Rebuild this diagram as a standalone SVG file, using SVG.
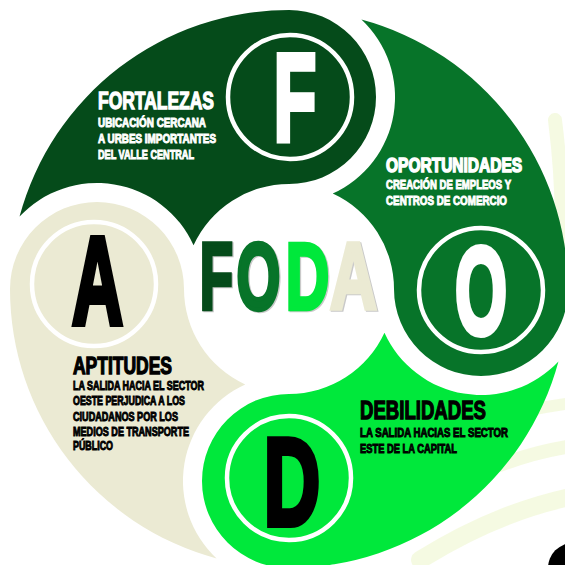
<svg xmlns="http://www.w3.org/2000/svg" width="565" height="565" viewBox="0 0 565 565">
  <style>
    .ring { fill: none; stroke: #ffffff; stroke-width: 4.5; }
    .big { font-family: "Liberation Sans", "DejaVu Sans", sans-serif; font-weight: bold; font-size: 124px; text-anchor: middle; stroke-width: 6; stroke-linejoin: miter; }
    .mid { font-family: "Liberation Sans", "DejaVu Sans", sans-serif; font-weight: bold; font-size: 94px; text-anchor: middle; stroke-width: 4.5; stroke-linejoin: miter; }
    .hd { font-family: "Liberation Sans Narrow", "Liberation Sans", sans-serif; font-weight: bold; stroke-width: 1.3; stroke-linejoin: miter; }
    .hdw { font-family: "Liberation Sans", sans-serif; font-weight: bold; stroke-width: 1.6; stroke-linejoin: miter; }
    .tx { font-family: "Liberation Sans Narrow", "Liberation Sans", sans-serif; font-weight: bold; font-size: 12px; stroke-width: 0.9; stroke-linejoin: miter; }
    .w { fill: #ffffff; stroke: #ffffff; }
    .k { fill: #000000; stroke: #000000; }
    .swoosh { fill: none; stroke: #eef6cf; stroke-linecap: round; opacity: 0.6; }
  </style>
  <defs>
    <path id="petal" d="M 19.55 216.6 A 279 279 0 0 1 289 10 A 87 87 0 0 1 376 97 A 87 87 0 0 1 289 184 A 105 105 0 0 0 193.55 245.25 A 106 106 0 0 0 19.55 216.6 Z"/>
  </defs>
  <rect width="565" height="565" fill="#ffffff"/>
  <g id="background">
    <path class="swoosh" stroke-width="18" d="M 420 560 Q 500 510 580 495"/>
    <path class="swoosh" stroke-width="14" d="M 500 465 Q 540 450 580 445"/>
    <path class="swoosh" stroke-width="12" d="M 530 410 Q 555 405 580 402"/>
    <path class="swoosh" stroke-width="14" d="M 555 120 Q 565 200 560 260"/>
    <circle cx="573" cy="568" r="25" fill="#000000"/>
  </g>
  <g id="fortalezas">
    <use href="#petal" fill="#054b1a"/>
    <circle class="ring" cx="290" cy="97" r="62"/>
    <text class="big w" transform="translate(295 140) scale(0.56 1)">F</text>
    <text class="hd w" x="98" y="109" font-size="24" textLength="116" lengthAdjust="spacingAndGlyphs">FORTALEZAS</text>
    <text class="tx w" x="98" y="126.5" textLength="108" lengthAdjust="spacingAndGlyphs">UBICACIÓN CERCANA</text>
    <text class="tx w" x="98" y="142.5" textLength="118" lengthAdjust="spacingAndGlyphs">A URBES IMPORTANTES</text>
    <text class="tx w" x="98" y="158.5" textLength="96" lengthAdjust="spacingAndGlyphs">DEL VALLE CENTRAL</text>
  </g>
  <g id="oportunidades">
    <use href="#petal" fill="#077429" transform="rotate(90 289 289)"/>
    <circle class="ring" cx="481" cy="290" r="62"/>
    <text class="big w" transform="translate(481 334) scale(0.54 1)">O</text>
    <text class="hdw w" transform="translate(386 172) scale(0.74 1)" x="0" y="0" font-size="21" textLength="184" lengthAdjust="spacingAndGlyphs">OPORTUNIDADES</text>
    <text class="tx w" x="386" y="188.5" textLength="125" lengthAdjust="spacingAndGlyphs">CREACIÓN DE EMPLEOS Y</text>
    <text class="tx w" x="386" y="204.5" textLength="121" lengthAdjust="spacingAndGlyphs">CENTROS DE COMERCIO</text>
  </g>
  <g id="debilidades">
    <use href="#petal" fill="#00e83b" transform="rotate(180 289 289)"/>
    <circle class="ring" cx="289" cy="478" r="62"/>
    <text class="big k" transform="translate(292 525) scale(0.63 1)">D</text>
    <text class="hd k" x="360" y="419" font-size="25" textLength="126" lengthAdjust="spacingAndGlyphs">DEBILIDADES</text>
    <text class="tx k" x="360" y="436.5" textLength="148" lengthAdjust="spacingAndGlyphs">LA SALIDA HACIAS EL SECTOR</text>
    <text class="tx k" x="360" y="452.5" textLength="97" lengthAdjust="spacingAndGlyphs">ESTE DE LA CAPITAL</text>
  </g>
  <g id="aptitudes">
    <use href="#petal" fill="#ebead3" transform="rotate(270 289 289)"/>
    <circle class="ring" cx="94" cy="284" r="62"/>
    <text class="big k" transform="translate(97.5 324) scale(0.57 1)">A</text>
    <text class="hd k" x="73" y="374" font-size="23" textLength="99" lengthAdjust="spacingAndGlyphs">APTITUDES</text>
    <text class="tx k" x="73" y="389.5" font-size="11.5" textLength="131" lengthAdjust="spacingAndGlyphs">LA SALIDA HACIA EL SECTOR</text>
    <text class="tx k" x="73" y="405" font-size="11.5" textLength="112" lengthAdjust="spacingAndGlyphs">OESTE PERJUDICA A LOS</text>
    <text class="tx k" x="73" y="420.5" font-size="11.5" textLength="105" lengthAdjust="spacingAndGlyphs">CIUDADANOS POR LOS</text>
    <text class="tx k" x="73" y="435.5" font-size="11.5" textLength="116" lengthAdjust="spacingAndGlyphs">MEDIOS DE TRANSPORTE</text>
    <text class="tx k" x="73" y="449.5" font-size="11.5" textLength="40" lengthAdjust="spacingAndGlyphs">PÚBLICO</text>
  </g>
  <g id="center-foda">
    <g opacity="0.45" transform="translate(1.2 1)">
      <text class="mid" fill="#888888" stroke="#888888" transform="translate(216.5 309) scale(0.58 1)">F</text>
      <text class="mid" fill="#888888" stroke="#888888" transform="translate(258.5 309) scale(0.6 1)">O</text>
      <text class="mid" fill="#888888" stroke="#888888" transform="translate(307.5 309) scale(0.64 1)">D</text>
      <text class="mid" fill="#888888" stroke="#888888" transform="translate(353.5 309) scale(0.69 1)">A</text>
    </g>
    <text class="mid" fill="#054b1a" stroke="#054b1a" transform="translate(216.5 309) scale(0.58 1)">F</text>
    <text class="mid" fill="#077429" stroke="#077429" transform="translate(258.5 309) scale(0.6 1)">O</text>
    <text class="mid" fill="#00e83b" stroke="#00e83b" transform="translate(307.5 309) scale(0.64 1)">D</text>
    <text class="mid" fill="#ebead3" stroke="#ebead3" transform="translate(353.5 309) scale(0.69 1)">A</text>
  </g>
</svg>
